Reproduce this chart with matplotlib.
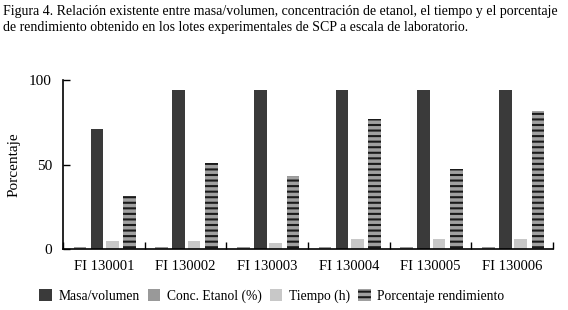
import matplotlib
matplotlib.use("Agg")
import matplotlib.pyplot as plt
import numpy as np

categories = ["FI 130001", "FI 130002", "FI 130003", "FI 130004", "FI 130005", "FI 130006"]
masa = [71, 94, 94, 94, 94, 94]
conc = [1.2, 1.2, 1.2, 1.2, 1.2, 1.2]
tiempo = [4.7, 4.7, 3.5, 6, 6, 6]
porc = [31.4, 50.7, 43.2, 76.7, 47.3, 81.7]

plt.rcParams['font.family'] = ['Liberation Serif', 'DejaVu Serif']
plt.rcParams['hatch.linewidth'] = 1.5

fig = plt.figure(figsize=(5.68, 3.10), dpi=100)
ax = fig.add_axes([63/568, 1-249/310, (553-63)/568, (249-80)/310])

x = np.arange(len(categories))
w = 0.155
ax.bar(x - 0.29, conc, w, color='#999999', label='Conc. Etanol (%)')
ax.bar(x - 0.085, masa, w, color='#3a3a3a', label='Masa/volumen')
ax.bar(x + 0.105, tiempo, w, color='#c8c8c8', label='Tiempo (h)')
ax.bar(x + 0.315, porc, w, facecolor='#a0a0a0', hatch='---', edgecolor='#1a1a1a', linewidth=0,
       label='Porcentaje rendimiento')

ax.set_xlim(-0.5, len(categories) - 0.5)
ax.set_ylim(0, 100)
ax.set_yticks([0, 50, 100])
ax.set_xticks(np.arange(len(categories) + 1) - 0.5, minor=False)
ax.set_xticklabels([])
ax.set_xticks(x, minor=True)
ax.set_xticklabels(categories, minor=True, fontsize=10.5)
ax.tick_params(axis='x', which='minor', length=0, pad=8)
ax.tick_params(axis='x', which='major', direction='in', length=5, width=1)
ax.tick_params(axis='y', direction='in', length=5, width=1, labelsize=11, pad=8)
for s in ['top', 'right']:
    ax.spines[s].set_visible(False)
for s in ['left', 'bottom']:
    ax.spines[s].set_linewidth(1.2)
ax.set_ylabel('Porcentaje', fontsize=11, labelpad=6)

handles, labels = ax.get_legend_handles_labels()
order = [1, 0, 2, 3]
fig.legend([handles[i] for i in order], [labels[i] for i in order],
           loc='center', bbox_to_anchor=(272/568, 1-296/310), ncol=4, frameon=False,
           fontsize=9.8, handlelength=0.9, handleheight=0.9, handletextpad=0.5,
           columnspacing=0.6, borderaxespad=0)

fig.text(3/568, 1-11/310, "Figura 4. Relación existente entre masa/volumen, concentración de etanol, el tiempo y el porcentaje",
         fontsize=10, va='center', ha='left')
fig.text(3/568, 1-28/310, "de rendimiento obtenido en los lotes experimentales de SCP a escala de laboratorio.",
         fontsize=10, va='center', ha='left')

fig.savefig('out.png', dpi=100)
